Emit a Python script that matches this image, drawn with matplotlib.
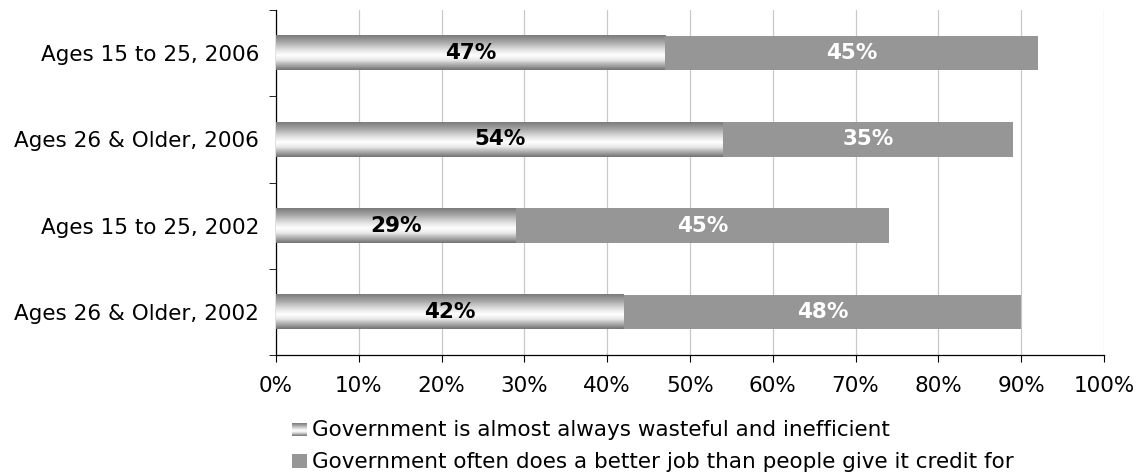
import matplotlib
matplotlib.use("Agg")
import matplotlib.pyplot as plt
import numpy as np
from matplotlib.patches import Rectangle
from matplotlib.colors import LinearSegmentedColormap

groups = ["Ages 26 & Older, 2002", "Ages 15 to 25, 2002",
          "Ages 26 & Older, 2006", "Ages 15 to 25, 2006"]
wasteful = [42, 29, 54, 47]
better_job = [48, 45, 35, 45]
legend_labels = ["Government is almost always wasteful and inefficient",
                 "Government often does a better job than people give it credit for"]
xticks = list(range(0, 101, 10))

plt.rcParams["font.family"] = "DejaVu Sans"
FS = 15.5
fig = plt.figure(figsize=(11.4, 4.75), dpi=100)
ax = fig.add_axes([276 / 1140, 120 / 475, 828 / 1140, 345 / 475])

# metallic shading for the first series (row 0 = top edge of the bar)
shade = LinearSegmentedColormap.from_list(
    "metal", [(0.0, "#7c7c7c"), (0.2, "#a8a8a8"), (0.42, "#e2e2e2"),
              (0.58, "#ffffff"), (0.72, "#e6e6e6"), (0.88, "#a4a4a4"),
              (1.0, "#747474")])
grad = np.linspace(0, 1, 64).reshape(-1, 1)

y = np.arange(len(groups))
h = 0.4
solid = "#969696"
for yi, w, b in zip(y, wasteful, better_job):
    ax.imshow(grad, cmap=shade, aspect="auto", extent=(0, w, yi - h / 2, yi + h / 2),
              zorder=3, interpolation="bilinear")
    ax.barh(yi, b, left=w, height=h, color=solid, zorder=3)
    ax.text(w / 2, yi, f"{w}%", ha="center", va="center", fontsize=FS,
            fontweight="bold", color="black", zorder=4)
    ax.text(w + b / 2, yi, f"{b}%", ha="center", va="center", fontsize=FS,
            fontweight="bold", color="white", zorder=4)

ax.set_xlim(0, 100)
ax.set_ylim(-0.5, len(groups) - 0.5)
ax.set_xticks(xticks)
ax.set_xticklabels([f"{t}%" for t in xticks], fontsize=FS)
ax.set_yticks(y)
ax.set_yticklabels(groups, fontsize=FS)
ax.tick_params(axis="y", length=0, pad=12)
ax.set_yticks(np.arange(-0.5, len(groups)), minor=True)
ax.tick_params(axis="y", which="minor", length=5, direction="out")
ax.tick_params(axis="x", length=5, direction="out", pad=10)
ax.xaxis.grid(True, color="#c8c8c8", lw=0.9, zorder=0)
ax.set_axisbelow(True)
for s in ["top", "right"]:
    ax.spines[s].set_visible(False)
for s in ["left", "bottom"]:
    ax.spines[s].set_color("black")
    ax.spines[s].set_linewidth(0.9)

# legend
lax = fig.add_axes([292 / 1140, 1 - 436 / 475, 15 / 1140, 13 / 475])
lax.imshow(grad, cmap=shade, aspect="auto", interpolation="bilinear")
lax.axis("off")
fig.patches.append(Rectangle((292 / 1140, 1 - 468 / 475), 15 / 1140, 14 / 475,
                             transform=fig.transFigure, facecolor=solid, lw=0))
fig.text(312 / 1140, 1 - 430 / 475, legend_labels[0], fontsize=FS, va="center")
fig.text(312 / 1140, 1 - 462 / 475, legend_labels[1], fontsize=FS, va="center")

fig.savefig("out.png", dpi=100)
